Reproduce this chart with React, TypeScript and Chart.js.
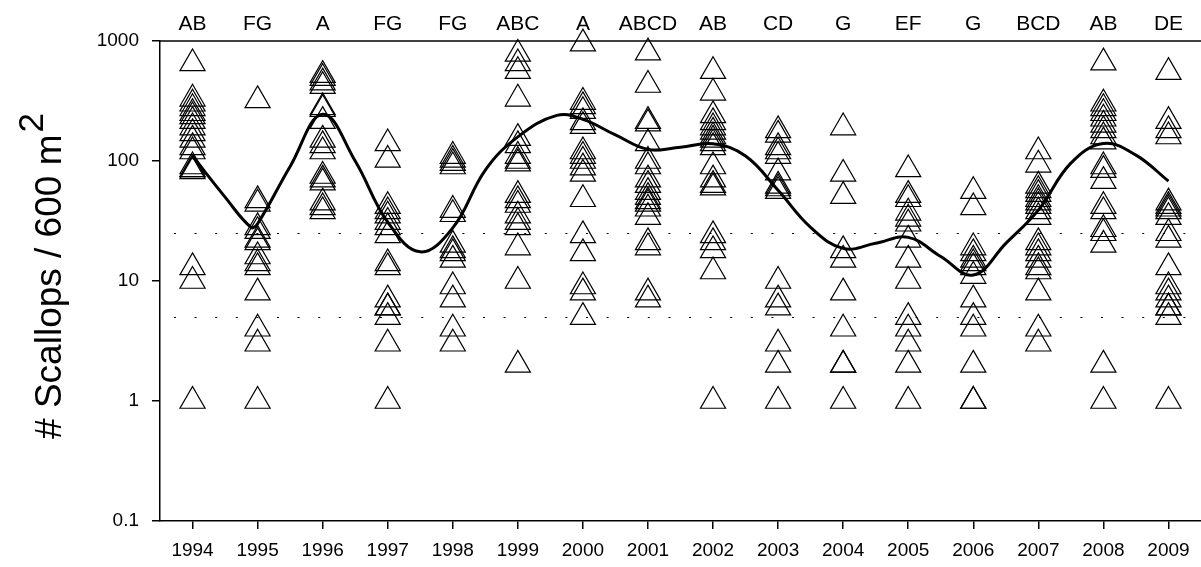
import React, { useEffect, useRef } from "react";
import { Chart, registerables } from "chart.js";

Chart.register(...registerables);

// ---- Data ----
const years = [1994, 1995, 1996, 1997, 1998, 1999, 2000, 2001, 2002, 2003, 2004, 2005, 2006, 2007, 2008, 2009];
const groupLabels = ["AB", "FG", "A", "FG", "FG", "ABC", "A", "ABCD", "AB", "CD", "G", "EF", "G", "BCD", "AB", "DE"];
const yTickValues = [0.1, 1, 10, 100, 1000];
const refLines = [25, 5];

const n1994 = [650, 330, 300, 275, 250, 235, 215, 190, 170, 150, 130, 120, 90, 85, 85, 82, 13, 10, 1];
const n1995 = [320, 47, 44, 28, 26, 22, 21, 16, 14, 13, 8, 4, 3, 1];
const n1996 = [520, 490, 450, 420, 280, 270, 215, 150, 135, 120, 75, 70, 66, 45, 41, 38];
const n1997 = [140, 102, 42, 38, 35, 31, 28, 24, 14, 13, 7, 6, 6, 5, 3, 1];
const n1998 = [110, 102, 96, 90, 39, 36, 20, 18, 17, 15, 9, 7, 4, 3];
const n1999 = [780, 650, 560, 330, 155, 135, 110, 100, 95, 52, 47, 43, 35, 31, 28, 19, 10, 2];
const n2000 = [950, 310, 285, 260, 210, 195, 120, 110, 100, 88, 78, 48, 24, 17, 9, 8, 5];
const n2001 = [800, 430, 215, 205, 140, 100, 90, 70, 63, 55, 50, 46, 44, 40, 34, 21, 19, 8, 7];
const n2002 = [560, 370, 240, 210, 190, 175, 160, 150, 140, 130, 90, 70, 63, 60, 24, 21, 18, 12, 1];
const n2003 = [180, 165, 130, 120, 110, 80, 62, 59, 56, 10, 7, 6, 3, 2, 1];
const n2004 = [190, 78, 51, 18, 15, 8, 4, 2, 2, 1];
const n2005 = [85, 52, 48, 37, 33, 30, 22, 15, 10, 5, 4, 3, 2, 1];
const n2006 = [56, 41, 19, 17, 15, 14, 13, 11, 7, 5, 4, 2, 1, 1];
const n2007 = [120, 93, 62, 57, 53, 48, 45, 42, 38, 34, 21, 19, 17, 15, 13, 12, 8, 4, 3];
const n2008 = [660, 300, 275, 250, 225, 200, 180, 160, 145, 90, 84, 68, 42, 38, 27, 25, 20, 2, 1];
const n2009 = [550, 215, 180, 160, 45, 42, 40, 38, 34, 25, 22, 13, 9, 8, 7, 6, 6, 5, 1];
const counts = [n1994, n1995, n1996, n1997, n1998, n1999, n2000, n2001, n2002, n2003, n2004, n2005, n2006, n2007, n2008, n2009];

// smoothed trend
const trendX = [1994, 1994.5, 1994.9, 1995, 1995.5, 1996, 1996.5, 1997, 1997.5, 1998, 1998.5, 1999, 1999.6, 2000, 2000.5, 2001, 2001.5, 2002, 2002.5, 2003, 2003.5, 2004, 2004.5, 2005, 2005.5, 2006, 2006.5, 2007, 2007.5, 2008, 2008.5, 2009];
const trendY = [110, 50, 28, 30, 90, 245, 100, 31, 17.5, 27.7, 84, 159, 240, 222, 165, 125, 130, 139, 110, 57, 28, 18.7, 20.6, 23.1, 16, 11.2, 20.6, 39, 96, 140, 112, 68];

const FONT = "'Liberation Sans', Arial, Helvetica, sans-serif";

export default function App() {
  const ref = useRef<HTMLCanvasElement | null>(null);

  useEffect(() => {
    document.body.style.margin = "0";
    const canvas = ref.current;
    if (!canvas) return;

    const scatterData: { x: number; y: number }[] = [];
    years.forEach((yr, i) => counts[i].forEach((v) => scatterData.push({ x: yr, y: v })));
    const trendData = trendX.map((x, i) => ({ x, y: trendY[i] }));

    const overlay = {
      id: "overlay",
      beforeDatasetsDraw(chart: any) {
        const { ctx, chartArea, scales } = chart;
        ctx.save();
        ctx.strokeStyle = "#000";
        ctx.lineWidth = 1;
        ctx.setLineDash([2, 18.6]);
        refLines.forEach((v) => {
          const y = Math.round(scales.y.getPixelForValue(v)) + 0.5;
          ctx.beginPath();
          ctx.moveTo(chartArea.left + 14, y);
          ctx.lineTo(chartArea.right, y);
          ctx.stroke();
        });
        ctx.restore();
      },
      afterDraw(chart: any) {
        const { ctx, chartArea, scales } = chart;
        ctx.save();
        ctx.strokeStyle = "#000";
        ctx.lineWidth = 1.5;
        ctx.beginPath();
        ctx.moveTo(chartArea.left, chartArea.top);
        ctx.lineTo(chartArea.right, chartArea.top);
        ctx.stroke();

        ctx.fillStyle = "#000";
        ctx.font = `21px ${FONT}`;
        ctx.textAlign = "center";
        ctx.textBaseline = "alphabetic";
        years.forEach((yr, i) => {
          ctx.fillText(groupLabels[i], scales.x.getPixelForValue(yr), 30);
        });

        // rotated y-axis title with superscript
        ctx.translate(61, 276);
        ctx.rotate(-Math.PI / 2);
        ctx.textAlign = "left";
        const main = "# Scallops / 600 m";
        const sup = "2";
        ctx.font = `37px ${FONT}`;
        const wMain = ctx.measureText(main).width;
        ctx.font = `35px ${FONT}`;
        const wSup = ctx.measureText(sup).width;
        const start = -(wMain + wSup + 2) / 2;
        ctx.font = `37px ${FONT}`;
        ctx.fillText(main, start, 0);
        ctx.font = `35px ${FONT}`;
        ctx.fillText(sup, start + wMain + 2, -18);
        ctx.restore();
      },
    };

    const chart = new Chart(canvas, {
      type: "scatter",
      data: {
        datasets: [
          {
            label: "trend",
            data: trendData,
            showLine: true,
            borderColor: "#000",
            borderWidth: 3,
            pointRadius: 0,
            tension: 0.4,
            fill: false,
          } as any,
          {
            label: "counts",
            data: scatterData,
            pointStyle: "triangle",
            pointRadius: 14.5,
            pointHoverRadius: 14.5,
            borderColor: "#000",
            backgroundColor: "rgba(0,0,0,0)",
            borderWidth: 1.2,
            clip: false,
          } as any,
        ],
      },
      options: {
        animation: false,
        responsive: false,
        devicePixelRatio: 1,
        layout: { autoPadding: false, padding: { top: 41, left: 0, right: 0, bottom: 0 } },
        plugins: { legend: { display: false }, tooltip: { enabled: false }, title: { display: false } },
        scales: {
          x: {
            type: "linear",
            min: 1993.5,
            max: 2009.5,
            afterBuildTicks: (s: any) => {
              s.ticks = years.map((v) => ({ value: v }));
            },
            afterFit: (s: any) => {
              s.height = 46;
              s.paddingLeft = 0;
              s.paddingRight = 0;
            },
            grid: { display: true, drawOnChartArea: false, drawTicks: true, tickLength: 8, color: "#000", lineWidth: 1.5 },
            border: { display: true, color: "#000", width: 1.5 },
            ticks: {
              color: "#000",
              font: { family: FONT, size: 19 },
              padding: 10,
              autoSkip: false,
              maxRotation: 0,
              callback: (v: any) => String(v),
            },
          },
          y: {
            type: "logarithmic",
            min: 0.1,
            max: 1000,
            afterBuildTicks: (s: any) => {
              s.ticks = yTickValues.map((v) => ({ value: v }));
            },
            afterFit: (s: any) => {
              s.width = 160;
              s.paddingTop = 0;
              s.paddingBottom = 0;
            },
            grid: { display: true, drawOnChartArea: false, drawTicks: true, tickLength: 8, color: "#000", lineWidth: 1.5 },
            border: { display: true, color: "#000", width: 1.5 },
            ticks: {
              color: "#000",
              font: { family: FONT, size: 19 },
              padding: 13,
              autoSkip: false,
              callback: (v: any) => String(v),
            },
          },
        },
      } as any,
      plugins: [overlay],
    });

    return () => chart.destroy();
  }, []);

  return (
    <div style={{ width: 1201, height: 567 }}>
      <canvas ref={ref} width={1201} height={567} style={{ display: "block" }} />
    </div>
  );
}
